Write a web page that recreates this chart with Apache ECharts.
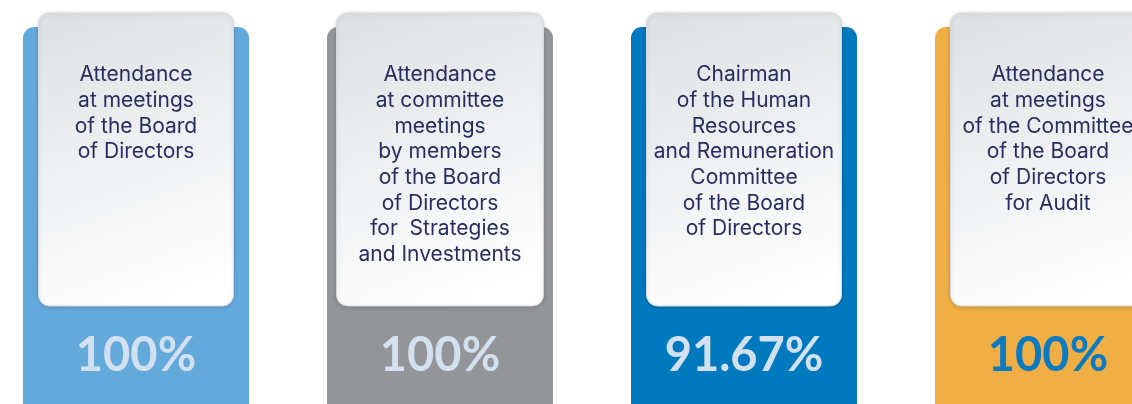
<!DOCTYPE html>
<html><head><meta charset="utf-8">
<script src="https://cdn.jsdelivr.net/npm/echarts@6/dist/echarts.min.js"></script>
<style>html,body{margin:0;padding:0;background:#fff;overflow:hidden}#c{width:1132px;height:404px}</style>
</head><body><div id="c"></div>
<script>
const categories = ['Board of Directors', 'Strategies and Investments', 'Human Resources and Remuneration', 'Audit'];
const labels = [
  'Attendance\nat meetings\nof the Board\nof Directors',
  'Attendance\nat committee\nmeetings\nby members\nof the Board\nof Directors\nfor  Strategies\nand Investments',
  'Chairman\nof the Human\nResources\nand Remuneration\nCommittee\nof the Board\nof Directors',
  'Attendance\nat meetings\nof the Committee\nof the Board\nof Directors\nfor Audit'
];
const values = [100, 100, 91.67, 100];

const cardColors = ['#64A9DC', '#939598', '#0079BF', '#F0AE44'];
const valueColors = ['#D3E0F0', '#D3E0F0', '#D3E0F0', '#0A7AC2'];
const innerWidths = [195, 207, 195, 195];
const FONT = 'Inter, "Noto Sans", sans-serif';

const chart = echarts.init(document.getElementById('c'), null, {renderer: 'canvas'});
chart.setOption({
  animation: false,
  backgroundColor: '#ffffff',
  grid: {left: -16, top: 0, width: 1216, height: 404, outerBoundsMode: 'none', containLabel: false},
  xAxis: {type: 'category', data: categories, show: false, boundaryGap: true},
  yAxis: {type: 'value', min: 0, max: 100, show: false},
  series: [{
    type: 'custom',
    clip: false,
    data: categories.map((c, i) => [i, values[i]]),
    encode: {x: 0, y: 1},
    renderItem: function (params, api) {
      const i = params.dataIndex;
      const cx = api.coord([api.value(0), 0])[0];
      const w = innerWidths[i];
      return {
        type: 'group',
        children: [
          {type: 'rect', shape: {x: cx - 113, y: 27, width: 226, height: 420, r: 11},
           style: {fill: cardColors[i]}},
          {type: 'rect', shape: {x: cx - w / 2, y: 13, width: w, height: 293, r: 11},
           style: {
             fill: new echarts.graphic.LinearGradient(0, 0, 0.55, 1, [
               {offset: 0, color: '#DDE0E3'}, {offset: 1, color: '#FFFFFF'}]),
             stroke: '#D6D9DC', lineWidth: 1,
             shadowBlur: 4, shadowColor: 'rgba(0,0,0,0.16)', shadowOffsetY: 1
           }},
          {type: 'text', x: cx, y: 62,
           style: {text: labels[i], fill: '#272D60', font: '21px ' + FONT,
                   align: 'center', verticalAlign: 'top', lineHeight: 25.7}},
          {type: 'text', x: cx, y: 356,
           style: {text: api.value(1) + '%', fill: valueColors[i], font: 'bold 47px Lato, ' + FONT,
                   align: 'center', verticalAlign: 'middle'}}
        ]
      };
    }
  }]
});
</script></body></html>
